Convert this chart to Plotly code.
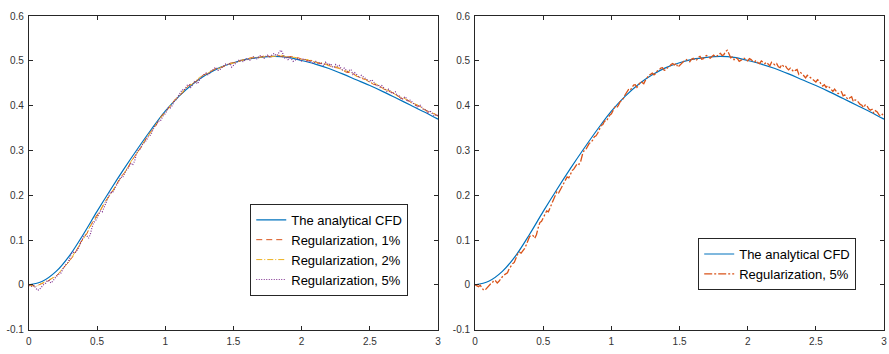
import plotly.graph_objects as go

# ---------------- data ----------------
x_analytic = [0.0, 0.1, 0.2, 0.3, 0.4, 0.5, 0.6, 0.7, 0.8, 0.9, 1.0,
              1.1, 1.2, 1.3, 1.4, 1.5, 1.6, 1.7, 1.8, 1.9, 2.0,
              2.1, 2.2, 2.3, 2.4, 2.5, 2.6, 2.7, 2.8, 2.9, 3.0]
y_analytic = [0.000, 0.008, 0.030, 0.066, 0.113, 0.164, 0.213, 0.260, 0.305, 0.348, 0.388,
              0.421, 0.448, 0.469, 0.485, 0.496, 0.504, 0.508, 0.510, 0.508, 0.501,
              0.493, 0.483, 0.471, 0.458, 0.445, 0.431, 0.416, 0.401, 0.386, 0.370]

x_reg1 = [round(i * 0.025, 4) for i in range(121)]
y_reg1 = [-0.002, -0.001, -0.003, 0.000, 0.003, 0.007, 0.010, 0.016, 0.020, 0.027,
          0.036, 0.047, 0.055, 0.064, 0.077, 0.093, 0.104, 0.114, 0.130, 0.145,
          0.156, 0.166, 0.181, 0.194, 0.204, 0.214, 0.228, 0.241, 0.250, 0.261,
          0.275, 0.288, 0.298, 0.308, 0.321, 0.335, 0.344, 0.353, 0.366, 0.378,
          0.386, 0.394, 0.405, 0.415, 0.422, 0.428, 0.438, 0.446, 0.450, 0.454,
          0.461, 0.468, 0.471, 0.474, 0.479, 0.484, 0.485, 0.487, 0.491, 0.495,
          0.496, 0.497, 0.500, 0.503, 0.504, 0.507, 0.507, 0.506, 0.509, 0.511,
          0.510, 0.509, 0.511, 0.513, 0.510, 0.508, 0.509, 0.510, 0.507, 0.507,
          0.504, 0.501, 0.501, 0.501, 0.498, 0.494, 0.494, 0.494, 0.490, 0.486,
          0.485, 0.484, 0.480, 0.475, 0.474, 0.472, 0.467, 0.462, 0.460, 0.458,
          0.453, 0.448, 0.446, 0.443, 0.438, 0.433, 0.431, 0.428, 0.423, 0.417,
          0.415, 0.413, 0.408, 0.402, 0.400, 0.398, 0.392, 0.386, 0.384, 0.382,
          0.377]

x_reg2 = [round(i * 0.05, 3) for i in range(61)]
y_reg2 = [0.000, -0.004, 0.004, 0.012, 0.019, 0.037, 0.053, 0.079, 0.102, 0.131,
          0.153, 0.181, 0.202, 0.229, 0.249, 0.276, 0.297, 0.322, 0.343, 0.367,
          0.385, 0.406, 0.421, 0.439, 0.449, 0.463, 0.470, 0.480, 0.484, 0.492,
          0.495, 0.501, 0.503, 0.508, 0.508, 0.511, 0.510, 0.513, 0.508, 0.508,
          0.503, 0.503, 0.497, 0.496, 0.489, 0.487, 0.479, 0.476, 0.466, 0.462,
          0.452, 0.448, 0.437, 0.433, 0.422, 0.417, 0.407, 0.402, 0.391, 0.386,
          0.376]

x_reg5 = [round(i * 0.0125, 4) for i in range(241)]
y_reg5 = [0.000, -0.003, -0.004, -0.001, -0.008, -0.012, -0.011, -0.006, -0.002, 0.002,
          0.004, 0.010, 0.009, 0.004, 0.008, 0.014, 0.018, 0.022, 0.024, 0.027,
          0.036, 0.042, 0.047, 0.050, 0.058, 0.069, 0.073, 0.071, 0.076, 0.081,
          0.089, 0.099, 0.108, 0.111, 0.110, 0.104, 0.112, 0.127, 0.139, 0.142,
          0.151, 0.160, 0.165, 0.163, 0.172, 0.183, 0.191, 0.200, 0.208, 0.205,
          0.212, 0.222, 0.228, 0.233, 0.241, 0.239, 0.248, 0.255, 0.259, 0.266,
          0.271, 0.269, 0.276, 0.291, 0.300, 0.302, 0.308, 0.316, 0.318, 0.323,
          0.331, 0.333, 0.339, 0.350, 0.356, 0.358, 0.366, 0.365, 0.372, 0.379,
          0.382, 0.391, 0.397, 0.395, 0.400, 0.408, 0.412, 0.416, 0.424, 0.431,
          0.436, 0.434, 0.439, 0.446, 0.447, 0.441, 0.446, 0.454, 0.452, 0.449,
          0.457, 0.464, 0.468, 0.470, 0.473, 0.469, 0.472, 0.478, 0.480, 0.484,
          0.485, 0.479, 0.480, 0.485, 0.487, 0.492, 0.494, 0.491, 0.495, 0.486,
          0.490, 0.494, 0.497, 0.501, 0.503, 0.499, 0.498, 0.504, 0.506, 0.501,
          0.502, 0.508, 0.510, 0.504, 0.505, 0.511, 0.512, 0.508, 0.506, 0.510,
          0.513, 0.509, 0.511, 0.515, 0.517, 0.512, 0.514, 0.521, 0.524, 0.516,
          0.507, 0.509, 0.503, 0.507, 0.505, 0.499, 0.501, 0.504, 0.506, 0.502,
          0.500, 0.505, 0.503, 0.499, 0.498, 0.501, 0.496, 0.494, 0.500, 0.497,
          0.494, 0.497, 0.493, 0.489, 0.497, 0.493, 0.491, 0.494, 0.487, 0.485,
          0.492, 0.488, 0.490, 0.484, 0.480, 0.484, 0.481, 0.476, 0.479, 0.481,
          0.470, 0.474, 0.471, 0.466, 0.462, 0.468, 0.465, 0.461, 0.460, 0.455,
          0.453, 0.458, 0.455, 0.449, 0.444, 0.447, 0.441, 0.445, 0.440, 0.435,
          0.432, 0.437, 0.433, 0.427, 0.428, 0.431, 0.422, 0.424, 0.418, 0.414,
          0.418, 0.420, 0.409, 0.413, 0.412, 0.406, 0.403, 0.401, 0.396, 0.402,
          0.400, 0.393, 0.390, 0.392, 0.383, 0.389, 0.386, 0.380, 0.377, 0.381,
          0.376]

x_tickvals = [0, 0.5, 1, 1.5, 2, 2.5, 3]
x_ticktext = ["0", "0.5", "1", "1.5", "2", "2.5", "3"]
y_tickvals = [-0.1, 0, 0.1, 0.2, 0.3, 0.4, 0.5, 0.6]
y_ticktext = ["-0.1", "0", "0.1", "0.2", "0.3", "0.4", "0.5", "0.6"]

name_an = "The analytical CFD"
name_r1 = "Regularization, 1%"
name_r2 = "Regularization, 2%"
name_r5 = "Regularization, 5%"

# ---------------- styles ----------------
BLUE = "#0072BD"
ORANGE = "#D95319"
YELLOW = "#EDB120"
PURPLE = "#7E2F8E"
AX = "#262626"

fig = go.Figure()

# left panel
fig.add_trace(go.Scatter(x=x_analytic, y=y_analytic, name=name_an, mode="lines",
                         line=dict(color=BLUE, width=1.2, shape="spline", smoothing=1.0),
                         xaxis="x", yaxis="y", legend="legend"))
fig.add_trace(go.Scatter(x=x_reg1, y=y_reg1, name=name_r1, mode="lines",
                         line=dict(color=ORANGE, width=1, dash="6px,4px"),
                         xaxis="x", yaxis="y", legend="legend"))
fig.add_trace(go.Scatter(x=x_reg2, y=y_reg2, name=name_r2, mode="lines",
                         line=dict(color=YELLOW, width=1, dash="6px,2px,1px,2px"),
                         xaxis="x", yaxis="y", legend="legend"))
fig.add_trace(go.Scatter(x=x_reg5, y=y_reg5, name=name_r5, mode="lines",
                         line=dict(color=PURPLE, width=1.2, dash="1px,1.5px"),
                         xaxis="x", yaxis="y", legend="legend"))

# right panel
fig.add_trace(go.Scatter(x=x_analytic, y=y_analytic, name=name_an, mode="lines",
                         line=dict(color=BLUE, width=1.2, shape="spline", smoothing=1.0),
                         xaxis="x2", yaxis="y2", legend="legend2"))
fig.add_trace(go.Scatter(x=x_reg5, y=y_reg5, name=name_r5, mode="lines",
                         line=dict(color=ORANGE, width=1.3, dash="8px,2px,2px,2px"),
                         xaxis="x2", yaxis="y2", legend="legend2"))

tickfont = dict(family="Liberation Sans, Arial, sans-serif", size=10, color="#333333")

def xax(domain, anchor):
    return dict(domain=domain, anchor=anchor, range=[0, 3], tickvals=x_tickvals,
                ticktext=x_ticktext, ticks="inside", ticklen=4, tickcolor=AX,
                showline=True, linecolor=AX, linewidth=1, mirror="ticks",
                showgrid=False, zeroline=False, tickfont=tickfont, ticklabelstandoff=2)

def yax(domain, anchor):
    return dict(domain=domain, anchor=anchor, range=[-0.1, 0.6], tickvals=y_tickvals,
                ticktext=y_ticktext, ticks="inside", ticklen=4, tickcolor=AX,
                showline=True, linecolor=AX, linewidth=1, mirror="ticks",
                showgrid=False, zeroline=False, tickfont=tickfont, ticklabelstandoff=2)

W, H = 889, 354
ydom = [1 - 335 / H, 1 - 10.5 / H]

legfont = dict(family="Liberation Sans, Arial, sans-serif", size=13, color="#000000")

fig.update_layout(
    width=W, height=H,
    margin=dict(l=0, r=0, t=0, b=0),
    paper_bgcolor="white", plot_bgcolor="white",
    xaxis=xax([26 / W, 438 / W], "y"),
    yaxis=yax(ydom, "x"),
    xaxis2=xax([475.3 / W, 887 / W], "y2"),
    yaxis2=yax(ydom, "x2"),
    legend=dict(x=408 / W, y=1 - 300 / H, xanchor="right", yanchor="bottom",
                bgcolor="white", bordercolor=AX, borderwidth=1, font=legfont,
                tracegroupgap=0),
    legend2=dict(x=859 / W, y=1 - 294 / H, xanchor="right", yanchor="bottom",
                 bgcolor="white", bordercolor=AX, borderwidth=1, font=legfont,
                 tracegroupgap=0),
    showlegend=True,
)

fig.write_html("out.html")
